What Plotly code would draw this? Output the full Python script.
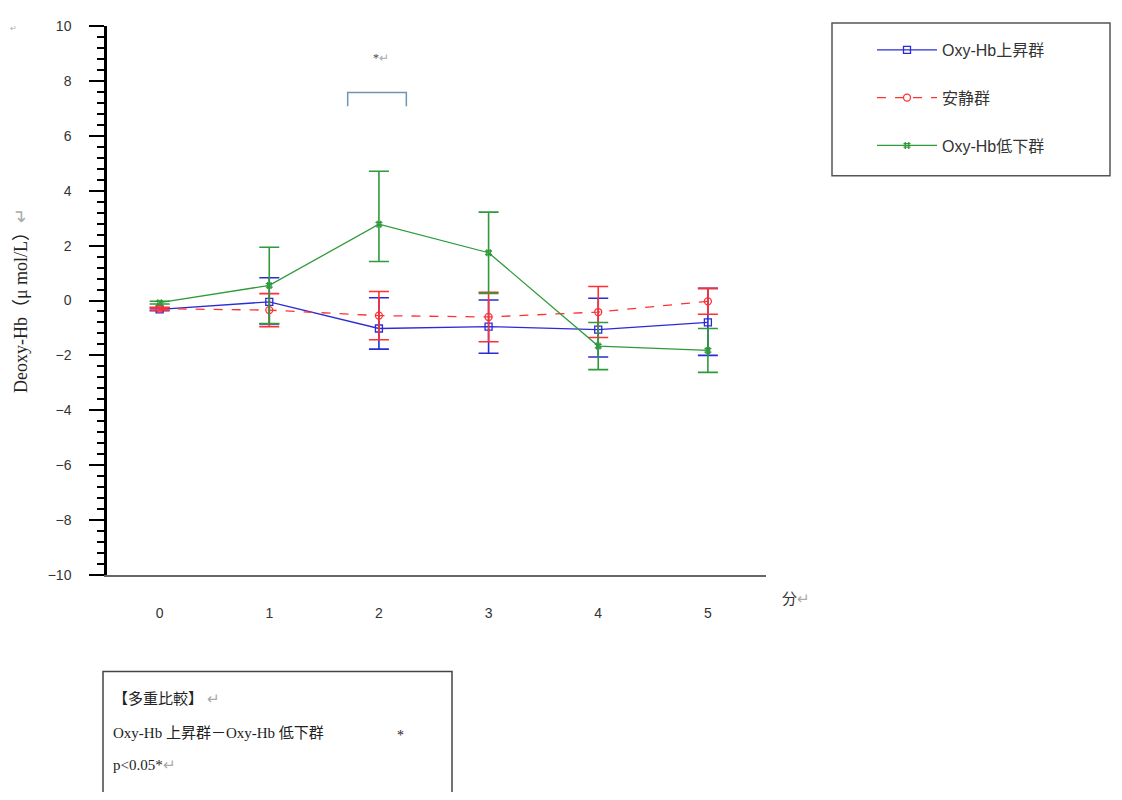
import plotly.graph_objects as go

minutes = [0, 1, 2, 3, 4, 5]
x_labels = ["0", "1", "2", "3", "4", "5"]

up_name = "Oxy-Hb上昇群"
up_mean = [-0.32, -0.05, -1.02, -0.95, -1.06, -0.8]
up_err_plus = [0.05, 0.88, 1.12, 0.97, 1.14, 1.24]
up_err_minus = [0.05, 0.8, 0.75, 0.97, 1.0, 1.2]

rest_name = "安静群"
rest_mean = [-0.3, -0.35, -0.55, -0.6, -0.42, -0.03]
rest_err_plus = [0.05, 0.6, 0.88, 0.9, 0.93, 0.47]
rest_err_minus = [0.05, 0.6, 0.88, 0.9, 0.93, 0.47]

down_name = "Oxy-Hb低下群"
down_mean = [-0.08, 0.55, 2.78, 1.74, -1.66, -1.82]
down_err_plus = [0.05, 1.39, 1.93, 1.48, 0.86, 0.8]
down_err_minus = [0.05, 1.39, 1.36, 1.48, 0.86, 0.8]

y_ticks = [10, 8, 6, 4, 2, 0, -2, -4, -6, -8, -10]

BLUE = "#2b2bd6"
RED = "#ff3030"
GREEN = "#2e9a3a"

# page-coordinate helpers for the plot area (left 107, right 766, top 18, bottom 575)
PL, PW, PB, PH = 107, 659, 575, 557


def px(X):
    return (X - PL) / PW


def py(Y):
    return (PB - Y) / PH


fig = go.Figure()


def add(name, mean, ep, em, color, dash, symbol):
    fig.add_trace(go.Scatter(
        x=minutes, y=mean, name=name, mode="lines+markers",
        line=dict(color=color, width=1.3, dash=dash),
        marker=dict(symbol=symbol, size=7, color=color, line=dict(color=color, width=1.3)),
        error_y=dict(type="data", symmetric=False, array=ep, arrayminus=em, visible=True,
                     color=color, thickness=1.6, width=10),
        legendgroup=name,
    ))


add(up_name, up_mean, up_err_plus, up_err_minus, BLUE, "solid", "square-open")
add(rest_name, rest_mean, rest_err_plus, rest_err_minus, RED, "dash", "circle-open")
add(down_name, down_mean, down_err_plus, down_err_minus, GREEN, "solid", "hash-open")

# significance bracket
fig.add_shape(type="path", xref="x", yref="y",
              path="M 1.715,7.08 L 1.715,7.58 L 2.25,7.58 L 2.25,7.08",
              line=dict(color="#6f95b5", width=1.5))
fig.add_annotation(x=2.02, y=8.83, xref="x", yref="y", text="*<span style='color:#aaa'>↵</span>",
                   showarrow=False, font=dict(size=12, color="#444", family="Liberation Serif"))

# legend box
fig.add_shape(type="rect", xref="paper", yref="paper",
              x0=px(832), x1=px(1110), y0=py(170), y1=py(15),
              line=dict(color="#555", width=1.5), fillcolor="rgba(0,0,0,0)")

# comparison box
fig.add_shape(type="rect", xref="paper", yref="paper",
              x0=px(103), x1=px(452), y0=py(830), y1=py(673),
              line=dict(color="#444", width=1.5), fillcolor="rgba(0,0,0,0)")
box_lines = ["【多重比較】 <span style='color:#aaa'>↵</span>",
             "Oxy-Hb 上昇群－Oxy-Hb 低下群",
             "p<0.05*<span style='color:#aaa'>↵</span>"]
box_y = [700, 735, 768]
for t, yy in zip(box_lines, box_y):
    fig.add_annotation(x=px(111), y=py(yy), xref="paper", yref="paper",
                       text=t, showarrow=False, xanchor="left", yanchor="middle",
                       font=dict(size=15, color="#222", family="Liberation Serif, Noto Sans CJK JP"))
fig.add_annotation(x=px(400), y=py(738), xref="paper", yref="paper", text="*", showarrow=False,
                   yanchor="middle", font=dict(size=14, color="#222", family="Liberation Serif"))

fig.add_annotation(x=px(780), y=py(598), xref="paper", yref="paper",
                   text="分<span style='color:#aaa'>↵</span>", showarrow=False, xanchor="left",
                   yanchor="middle", font=dict(size=15, color="#333", family="Noto Sans CJK JP"))
fig.add_annotation(x=px(8), y=py(14), xref="paper", yref="paper",
                   text="↵", showarrow=False, xanchor="left",
                   font=dict(size=8, color="#aaa"))

fig.update_layout(
    width=1114, height=784,
    margin=dict(l=99, r=356, t=10, b=217),
    paper_bgcolor="white", plot_bgcolor="white",
    font=dict(family="Liberation Sans, Noto Sans CJK JP", color="#333"),
    legend=dict(x=px(872), y=py(25), xanchor="left", yanchor="top",
                bgcolor="rgba(0,0,0,0)", borderwidth=0, tracegroupgap=24, itemwidth=60,
                font=dict(size=16, color="#333", family="Liberation Sans, Noto Sans CJK JP")),
    xaxis=dict(range=[-0.48, 5.53], tickvals=minutes, ticktext=x_labels, showgrid=False,
               zeroline=False, showline=True, linecolor="#666", linewidth=2, ticks="",
               ticklabelstandoff=24, tickfont=dict(size=14, color="#333")),
    yaxis=dict(range=[-10, 10], tickvals=y_ticks, showgrid=False, zeroline=False,
               showline=True, linecolor="black", linewidth=2.5, ticks="outside", ticklen=15,
               tickwidth=2, tickcolor="black", tickfont=dict(size=14, color="#333"),
               ticklabelstandoff=15,
               minor=dict(dtick=0.4, ticks="outside", ticklen=7, tickwidth=1.5, tickcolor="black"),
               title=dict(text="Deoxy-Hb（μ mol/L）<span style='color:#aaa'>↵</span>",
                          font=dict(size=18, family="Liberation Serif, Noto Sans CJK JP", color="#222"),
                          standoff=16)),
)

fig.write_html("out.html")
